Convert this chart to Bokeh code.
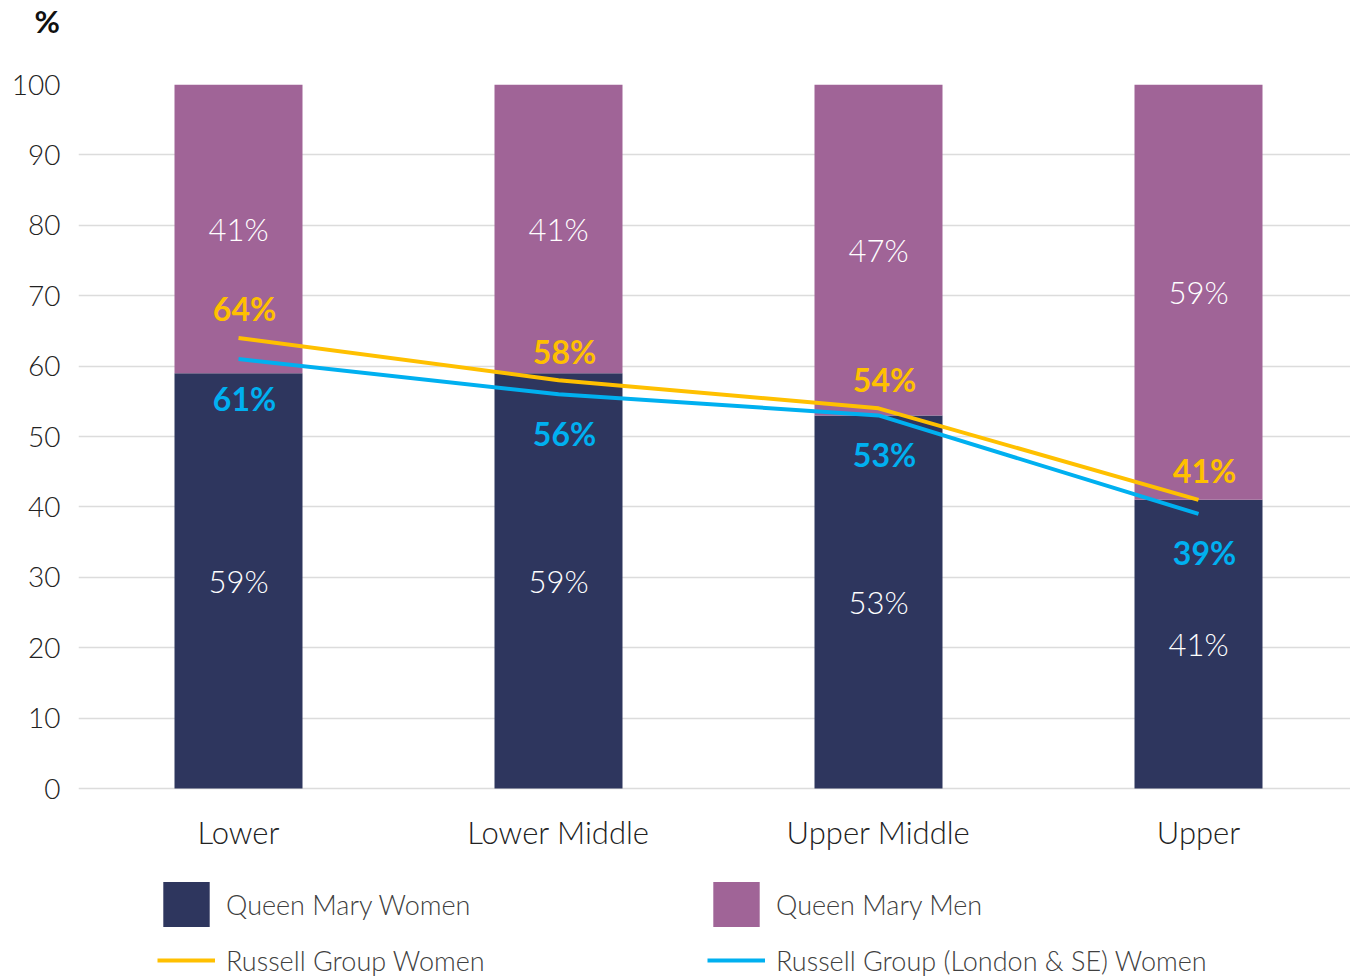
from bokeh.plotting import figure
from bokeh.models import ColumnDataSource, FixedTicker, Legend, LegendItem, Range1d
from bokeh.core.properties import value
from bokeh.embed import file_html
from bokeh.resources import INLINE

categories = ["Lower", "Lower Middle", "Upper Middle", "Upper"]
qm_women = [59, 59, 53, 41]
qm_men = [41, 41, 47, 59]
rg_women = [64, 58, 54, 41]
rg_lse_women = [61, 56, 53, 39]
y_ticks = [0, 10, 20, 30, 40, 50, 60, 70, 80, 90, 100]

NAVY = "#2E365E"
PURPLE = "#A06497"
YELLOW = "#FFC000"
CYAN = "#00B0F0"
FONT = "'Lato Light', Lato"
BOLD_FONT = "Lato"

xs = list(range(len(categories)))
src = ColumnDataSource(dict(
    x=xs,
    women=qm_women,
    men=qm_men,
    top=[w + m for w, m in zip(qm_women, qm_men)],
    women_mid=[w / 2 for w in qm_women],
    men_mid=[w + m / 2 for w, m in zip(qm_women, qm_men)],
    women_lbl=[f"{v}%" for v in qm_women],
    men_lbl=[f"{v}%" for v in qm_men],
    rg=rg_women,
    rg_lbl=[f"{v}%" for v in rg_women],
    lse=rg_lse_women,
    lse_lbl=[f"{v}%" for v in rg_lse_women],
))

# frame: 1272 x 897 px; 100 units = 704 px, the area below 0 holds the axis labels and legend
p = figure(frame_width=1272, frame_height=897, output_backend="svg", toolbar_location=None,
           x_range=Range1d(-0.5, 3.475), y_range=Range1d(-193 / 7.04, 100),
           min_border_left=78, min_border_right=0, min_border_top=83, min_border_bottom=0)
p.outline_line_color = None
p.background_fill_color = "white"

b1 = p.vbar(x="x", bottom=0, top="women", width=0.4, source=src, fill_color=NAVY, line_color=None)
b2 = p.vbar(x="x", bottom="women", top="top", width=0.4, source=src, fill_color=PURPLE, line_color=None)
l1 = p.line(x="x", y="rg", source=src, line_color=YELLOW, line_width=4)
l2 = p.line(x="x", y="lse", source=src, line_color=CYAN, line_width=4)

common = dict(text_align="center", text_baseline="middle")
p.text(x="x", y="women_mid", text="women_lbl", source=src, text_color="white",
       text_font=value(FONT), text_font_size="31px", **common)
p.text(x="x", y="men_mid", text="men_lbl", source=src, text_color="white",
       text_font=value(FONT), text_font_size="31px", **common)
p.text(x="x", y="rg", text="rg_lbl", source=src, text_color=YELLOW, x_offset=6, y_offset=-29,
       text_font=value(BOLD_FONT), text_font_style="bold", text_font_size="32px", **common)
p.text(x="x", y="lse", text="lse_lbl", source=src, text_color=CYAN, x_offset=6, y_offset=39,
       text_font=value(BOLD_FONT), text_font_style="bold", text_font_size="32px", **common)

# axes
p.xaxis.ticker = FixedTicker(ticks=xs)
p.xaxis.major_label_overrides = {i: c for i, c in enumerate(categories)}
p.xaxis.fixed_location = 0
p.yaxis.ticker = FixedTicker(ticks=y_ticks)
for ax in (p.xaxis[0], p.yaxis[0]):
    ax.axis_line_color = None
    ax.major_tick_line_color = None
    ax.minor_tick_line_color = None
    ax.major_label_text_font = FONT
    ax.major_label_text_color = "#222222"
p.xaxis.major_label_text_font_size = "31px"
p.yaxis.major_label_text_font_size = "28px"
p.xaxis.major_label_standoff = 18
p.yaxis.major_label_standoff = 12

p.xgrid.grid_line_color = None
p.ygrid.grid_line_color = "#DCDCDC"
p.ygrid.grid_line_width = 1.5

p.title.text = "%\n "
p.title.text_font = BOLD_FONT
p.title.text_font_style = "bold"
p.title.text_font_size = "31px"
p.title.text_line_height = 1.16
p.title.text_color = "#111111"
p.title.offset = -44
p.title.standoff = 0

legend = Legend(items=[
    LegendItem(label="Queen Mary Women", renderers=[b1]),
    LegendItem(label="Queen Mary Men", renderers=[b2]),
    LegendItem(label="Russell Group Women", renderers=[l1]),
    LegendItem(label="Russell Group (London & SE) Women", renderers=[l2]),
], ncols=2, location=(79, -7), orientation="horizontal")
legend.label_text_font = FONT
legend.label_text_font_size = "27px"
legend.label_text_color = "#404040"
legend.glyph_width = 58
legend.glyph_height = 56
legend.label_standoff = 11
legend.label_width = 481
legend.label_height = 56
legend.spacing = 0
legend.padding = 0
legend.margin = 0
legend.border_line_color = None
legend.background_fill_alpha = 0
p.add_layout(legend, "center")

open("out.html", "w").write(file_html(p, INLINE))
